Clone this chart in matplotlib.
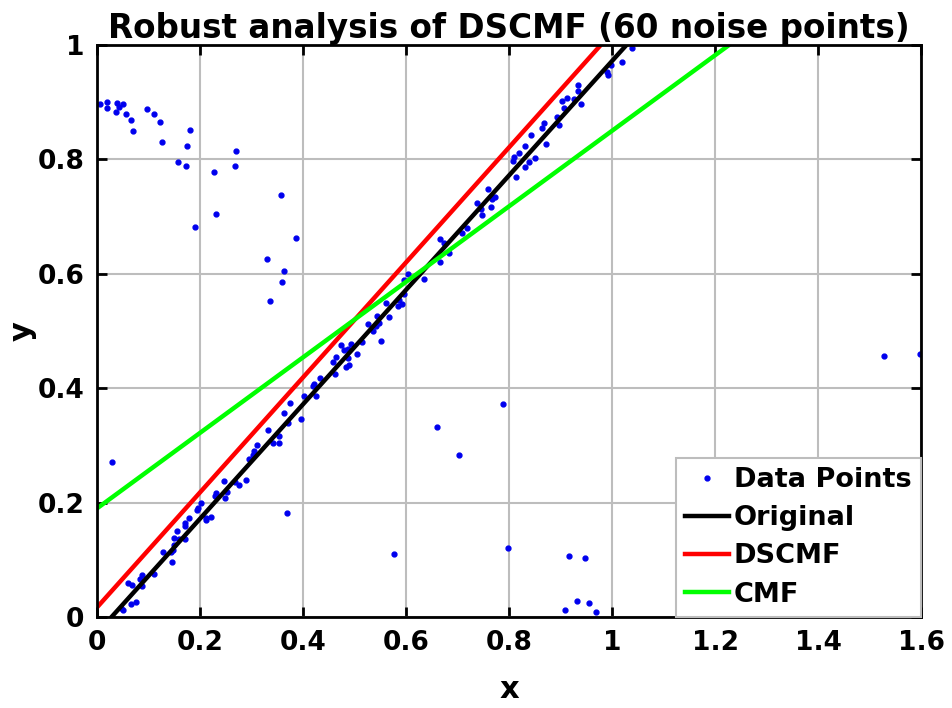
import numpy as np
import matplotlib
matplotlib.use("Agg")
import matplotlib.pyplot as plt

# inliers (close to the original line)
inlier_x = [0.046, 0.050, 0.066, 0.076, 0.060, 0.067, 0.087, 0.083, 0.088, 0.110,
            0.146, 0.128, 0.144, 0.148, 0.150, 0.150, 0.159, 0.171, 0.155, 0.170,
            0.171, 0.179, 0.212, 0.221, 0.212, 0.201, 0.196, 0.194, 0.231, 0.228,
            0.253, 0.248, 0.246, 0.267, 0.275, 0.289, 0.294, 0.303, 0.305, 0.311,
            0.331, 0.342, 0.353, 0.353, 0.362, 0.371, 0.396, 0.374, 0.402, 0.426,
            0.420, 0.421, 0.433, 0.462, 0.483, 0.489, 0.459, 0.463, 0.488, 0.504,
            0.480, 0.488, 0.474, 0.493, 0.515, 0.535, 0.526, 0.541, 0.548, 0.544,
            0.552, 0.566, 0.561, 0.584, 0.592, 0.587, 0.596, 0.595, 0.604, 0.635,
            0.665, 0.683, 0.674, 0.665, 0.708, 0.718, 0.748, 0.738, 0.746, 0.765,
            0.767, 0.773, 0.759, 0.813, 0.830, 0.839, 0.851, 0.807, 0.810, 0.820,
            0.830, 0.872, 0.843, 0.864, 0.867, 0.896, 0.893, 0.907, 0.902, 0.912,
            0.926, 0.940, 0.933, 0.934, 0.990, 0.993, 0.998, 1.020, 1.039]
inlier_y = [0.016, 0.013, 0.023, 0.026, 0.059, 0.056, 0.055, 0.067, 0.074, 0.076,
            0.096, 0.114, 0.113, 0.117, 0.126, 0.139, 0.136, 0.137, 0.150, 0.159,
            0.165, 0.173, 0.173, 0.175, 0.170, 0.199, 0.191, 0.187, 0.216, 0.212,
            0.219, 0.208, 0.237, 0.236, 0.231, 0.240, 0.276, 0.284, 0.290, 0.300,
            0.327, 0.305, 0.305, 0.316, 0.356, 0.340, 0.347, 0.374, 0.386, 0.387,
            0.403, 0.408, 0.418, 0.424, 0.437, 0.440, 0.446, 0.455, 0.453, 0.459,
            0.467, 0.469, 0.476, 0.478, 0.480, 0.500, 0.512, 0.509, 0.514, 0.527,
            0.483, 0.524, 0.549, 0.543, 0.547, 0.554, 0.564, 0.590, 0.600, 0.591,
            0.621, 0.636, 0.653, 0.661, 0.671, 0.680, 0.702, 0.723, 0.714, 0.717,
            0.731, 0.734, 0.748, 0.770, 0.786, 0.795, 0.802, 0.797, 0.805, 0.812,
            0.823, 0.826, 0.843, 0.855, 0.863, 0.860, 0.874, 0.890, 0.902, 0.907,
            0.905, 0.897, 0.930, 0.920, 0.953, 0.948, 0.965, 0.970, 0.995]

# noise points
noise_x = [0.006, 0.020, 0.020, 0.039, 0.043, 0.050, 0.036, 0.056, 0.066, 0.070,
           0.097, 0.111, 0.122, 0.180, 0.126, 0.174, 0.270, 0.157, 0.172, 0.227,
           0.268, 0.357, 0.230, 0.190, 0.386, 0.329, 0.362, 0.359, 0.335, 0.029,
           0.368, 0.788, 0.660, 0.702, 0.577, 0.798, 0.917, 0.947, 0.931, 0.956,
           0.909, 0.969, 1.528, 1.598]
noise_y = [0.897, 0.900, 0.889, 0.899, 0.892, 0.896, 0.882, 0.880, 0.869, 0.850,
           0.888, 0.879, 0.865, 0.851, 0.830, 0.824, 0.815, 0.795, 0.788, 0.778,
           0.789, 0.737, 0.704, 0.682, 0.663, 0.626, 0.605, 0.586, 0.552, 0.271,
           0.182, 0.373, 0.332, 0.284, 0.110, 0.121, 0.107, 0.104, 0.028, 0.024,
           0.012, 0.008, 0.456, 0.460]

# fitted lines: slope, intercept
line_names = ["Original", "DSCMF", "CMF"]
line_slopes = [1.0, 1.005, 0.66]
line_intercepts = [-0.028, 0.017, 0.19]
line_colors = ["black", "red", "#00ff00"]

plt.rcParams['font.family'] = ['DejaVu Sans']
plt.rcParams['font.weight'] = 'bold'

fig = plt.figure(figsize=(9.52, 7.08), dpi=100)
ax = fig.add_axes([0.102, 0.1285, 0.8655, 0.808])

px = np.array(inlier_x + noise_x)
py = np.array(inlier_y + noise_y)
ax.plot(px, py, '.', color='#0000ee', markersize=7, label='Data Points')

xs = np.array([0.0, 1.6])
for name, m, b, c in zip(line_names, line_slopes, line_intercepts, line_colors):
    ax.plot(xs, m * xs + b, color=c, linewidth=3.2, label=name)

ax.set_xlim(0, 1.6)
ax.set_ylim(0, 1)
ax.set_xticks(np.arange(0, 1.61, 0.2))
ax.set_xticklabels(['0', '0.2', '0.4', '0.6', '0.8', '1', '1.2', '1.4', '1.6'])
ax.set_yticks(np.arange(0, 1.01, 0.2))
ax.set_yticklabels(['0', '0.2', '0.4', '0.6', '0.8', '1'])
ax.grid(True, color='#bdbdbd', linewidth=1.5)
ax.set_axisbelow(True)
ax.tick_params(direction='in', length=7, width=2, top=True, right=True,
               labelsize=19, pad=9)
for s in ax.spines.values():
    s.set_linewidth(2)

ax.set_xlabel('x', fontsize=22, fontweight='bold', labelpad=14)
ax.set_ylabel('y', fontsize=22, fontweight='bold', labelpad=1)
ax.set_title('Robust analysis of DSCMF (60 noise points)', fontsize=23.5,
             fontweight='bold', pad=5)

leg = ax.legend(loc='lower right', fontsize=19.5, fancybox=False, framealpha=1,
                edgecolor='#bdbdbd', borderaxespad=0, handlelength=1.6,
                handletextpad=0.2, borderpad=0.35, labelspacing=0.45)
leg.get_frame().set_linewidth(1.5)
for t in leg.get_texts():
    t.set_fontweight('bold')

fig.savefig('out.png', dpi=100)
